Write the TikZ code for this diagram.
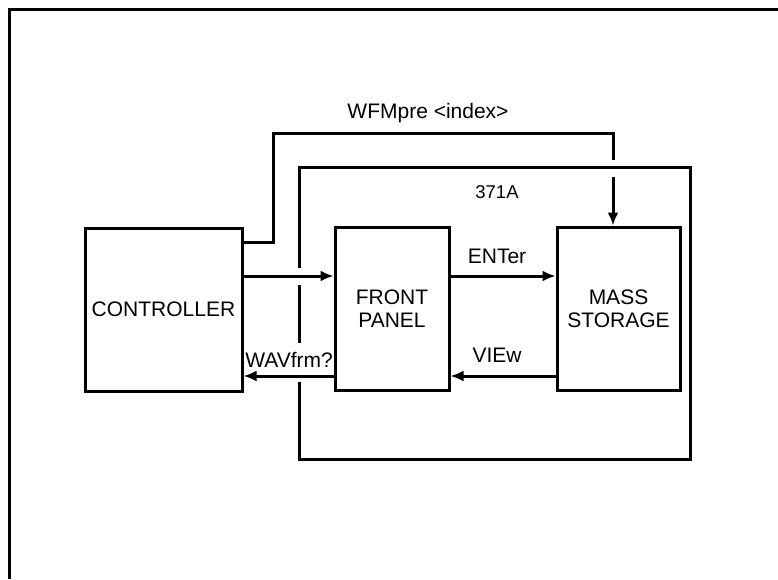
\documentclass[tikz,border=0pt]{standalone}
\usepackage{fontspec}
\setmainfont{Liberation Sans}
\usetikzlibrary{arrows.meta, positioning}

\begin{document}
\begin{tikzpicture}[
  x=1pt, y=-1pt,
  every node/.style={font=\fontsize{21}{23}\selectfont},
  unit/.style={rectangle, draw, line width=3pt, align=center,
               minimum height=163pt, inner sep=1pt},
  wire/.style={line width=3pt},
  arr/.style={wire, -{Latex[length=13pt,width=11pt]}},
  small/.style={font=\fontsize{18.5}{20}\selectfont},
]
\useasboundingbox (0,0) rectangle (778,579);

% -- Page frame ---------------------------------
\draw[line width=3pt] (778,9) -- (9,9) -- (9,579);

% -- Units --------------------------------------
\node[unit, minimum width=157pt] (ctrl)  at (163.5,309.5) {CONTROLLER};
\node[unit, minimum width=114pt] (panel) at (392,309)     {FRONT\\PANEL};
\node[unit, minimum width=123pt] (store) at (618.5,308.5) {MASS\\STORAGE};

% -- 371A enclosure (open where the arrows pass) -
\draw[wire] (299,268) -- (299,167) -- (690,167) -- (690,459)
  -- (299,459) -- (299,382);
\draw[wire] (299,285) -- (299,343);
\node[small] (inst) at (497,192) {371A};

% -- Rows for the arrows ------------------------
\coordinate (rowA) at (0,276);
\coordinate (rowB) at (0,376);
\coordinate (rowC) at (0,242);

% -- Data arrows --------------------------------
\draw[arr] (ctrl.east |- rowA)  -- (panel.west |- rowA);
\draw[arr] (panel.east |- rowA) -- (store.west |- rowA);
\draw[arr] (store.west |- rowB) -- (panel.east |- rowB);
\draw[arr] (panel.west |- rowB) -- (ctrl.east |- rowB);

\node (enter) at (497,256) {ENTer};
\node (view)  at (497,355) {VIEw};
\node (wav)   at (289,360) {WAVfrm?};

% -- WFMpre path over the enclosure -------------
\coordinate (bendL) at (273,133);
\coordinate (bendR) at (613,133);
\draw[wire] (ctrl.east |- rowC) -- (bendL |- rowC) -- (bendL)
  -- (bendR) -- (613,160);
\draw[arr] (613,177) -- (bendR |- store.north);
\node (wfm) at (428,113) {WFMpre <index>};

\end{tikzpicture}
\end{document}
